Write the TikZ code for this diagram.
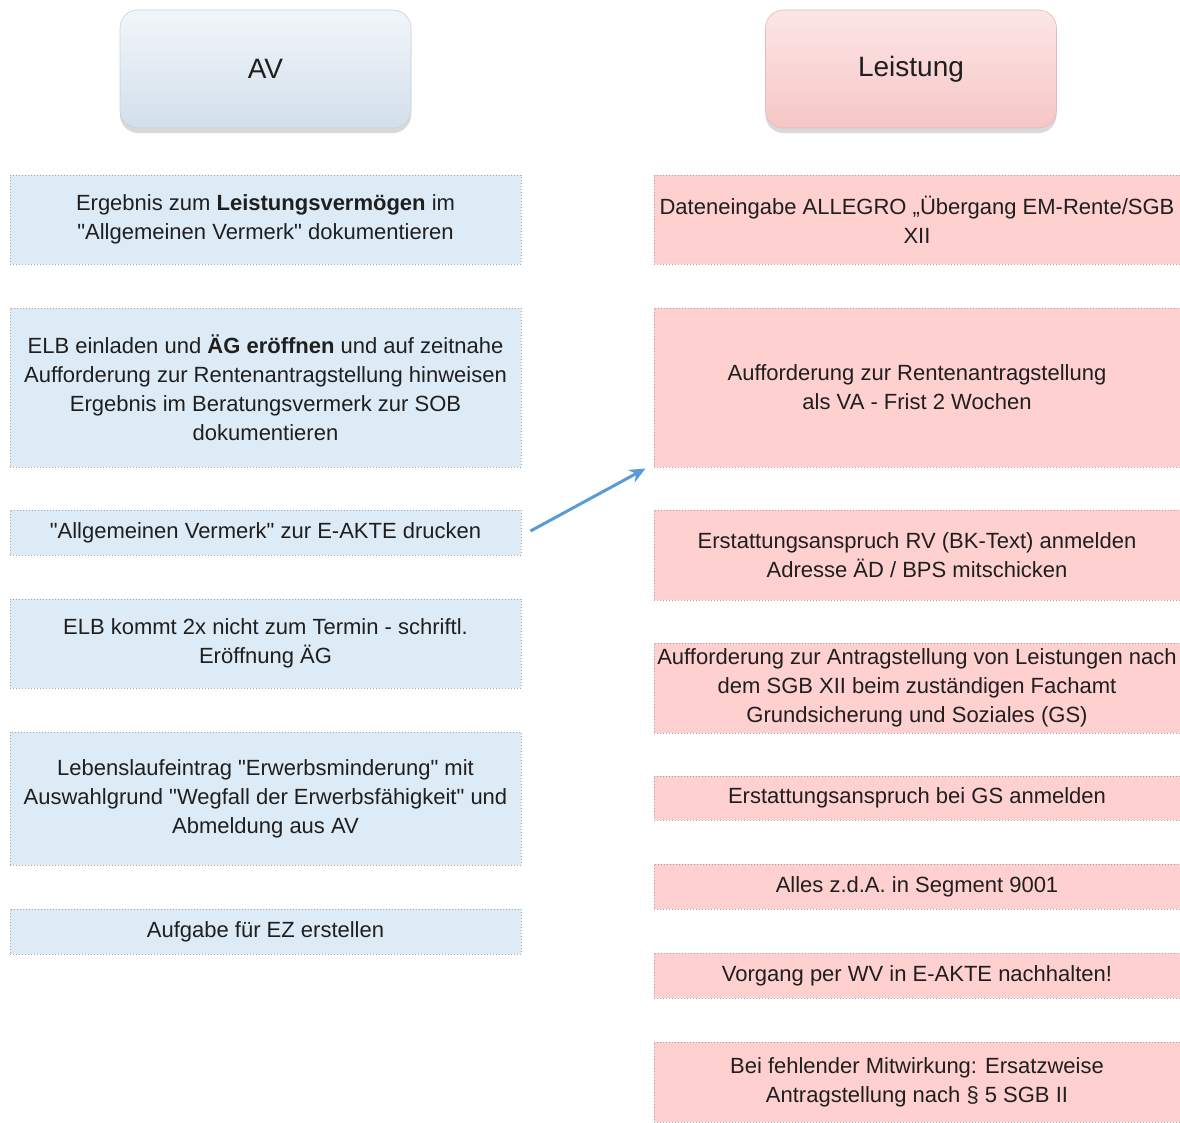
\documentclass[tikz,border=0pt]{standalone}
\usepackage{fontspec}
\setmainfont{Liberation Sans}[Ligatures=TeXOff]
\usetikzlibrary{arrows.meta,shadows}
\definecolor{ink}{HTML}{1F1F1F}
\definecolor{avfill}{HTML}{DDEBF7}
\definecolor{lefill}{HTML}{FFD0D0}
\definecolor{edge}{HTML}{A6A6A6}
\definecolor{avtop}{HTML}{F2F6FA}
\definecolor{avbot}{HTML}{D2DFEB}
\definecolor{letop}{HTML}{FDE6E6}
\definecolor{lebot}{HTML}{F6C6C6}
\definecolor{flowc}{HTML}{5B9BD5}
\tikzset{
  head/.style={rounded corners=18pt, minimum width=291pt, minimum height=118pt, inner sep=0pt,
    text=ink, font=\fontsize{28}{34}\selectfont,
    drop shadow={shadow xshift=0pt, shadow yshift=-5pt, opacity=0.3, fill=gray}},
  avhead/.style={head, top color=avtop, bottom color=avbot, draw=avbot!85!gray, line width=0.6pt},
  lehead/.style={head, top color=letop, bottom color=lebot, draw=lebot!85!gray, line width=0.6pt},
  task/.style={draw=edge, dotted, line width=1pt, inner sep=0pt, align=center, text=ink,
    font=\fontsize{22}{29}\selectfont},
  avtask/.style={task, fill=avfill, minimum width=511pt},
  letask/.style={task, fill=lefill, minimum width=526pt},
  flow/.style={draw=flowc, line width=3pt, -{Stealth[length=16pt,width=14pt]}},
}
\begin{document}
\begin{tikzpicture}[x=1pt,y=-1pt]
  \useasboundingbox (0,0) rectangle (1180,1122);
  % headers
  \node[avhead] (av) at (265.5,69) {AV};
  \node[lehead] (le) at (911,69) {Leistung};
  % AV column
  \node[avtask, minimum height=89pt] (l1) at (265.5,219.5)
    {Ergebnis zum \textbf{Leistungsvermögen} im\\ "Allgemeinen Vermerk" dokumentieren};
  \node[avtask, minimum height=159pt] (l2) at (265.5,387.5)
    {ELB einladen und \textbf{ÄG eröffnen} und auf zeitnahe\\ Aufforderung zur Rentenantragstellung hinweisen\\ Ergebnis im Beratungsvermerk zur SOB\\ dokumentieren};
  \node[avtask, minimum height=45pt] (l3) at (265.5,532.5)
    {"Allgemeinen Vermerk" zur E-AKTE drucken};
  \node[avtask, minimum height=89pt] (l4) at (265.5,643.5)
    {ELB kommt 2x nicht zum Termin - schriftl.\\ Eröffnung ÄG};
  \node[avtask, minimum height=133pt] (l5) at (265.5,798.5)
    {Lebenslaufeintrag "Erwerbsminderung" mit\\ Auswahlgrund "Wegfall der Erwerbsfähigkeit" und\\ Abmeldung aus AV};
  \node[avtask, minimum height=45pt] (l6) at (265.5,931.5)
    {Aufgabe für EZ erstellen};
  % Leistung column
  \node[letask, minimum height=89pt] (r1) at (917,219.5)
    {Dateneingabe ALLEGRO „Übergang EM-Rente/SGB\\ XII};
  \node[letask, minimum height=159pt] (r2) at (917,387.5)
    {Aufforderung zur Rentenantragstellung\\ als VA - Frist 2 Wochen};
  \node[letask, minimum height=90pt] (r3) at (917,555)
    {Erstattungsanspruch RV (BK-Text) anmelden\\ Adresse ÄD / BPS mitschicken};
  \node[letask, minimum height=90pt] (r4) at (917,688)
    {Aufforderung zur Antragstellung von Leistungen nach\\ dem SGB XII beim zuständigen Fachamt\\ Grundsicherung und Soziales (GS)};
  \node[letask, minimum height=44pt] (r5) at (917,798)
    {Erstattungsanspruch bei GS anmelden};
  \node[letask, minimum height=45pt] (r6) at (917,886.5)
    {Alles z.d.A. in Segment 9001};
  \node[letask, minimum height=45pt] (r7) at (917,975.5)
    {Vorgang per WV in E-AKTE nachhalten!};
  \node[letask, minimum height=80pt] (r8) at (917,1082)
    {Bei fehlender Mitwirkung: Ersatzweise\\ Antragstellung nach § 5 SGB II};
  % link
  \draw[flow] ([xshift=9pt,yshift=1.5pt]l3.east) -- ([xshift=-8pt,yshift=-1pt]r2.south west);
\end{tikzpicture}
\end{document}
